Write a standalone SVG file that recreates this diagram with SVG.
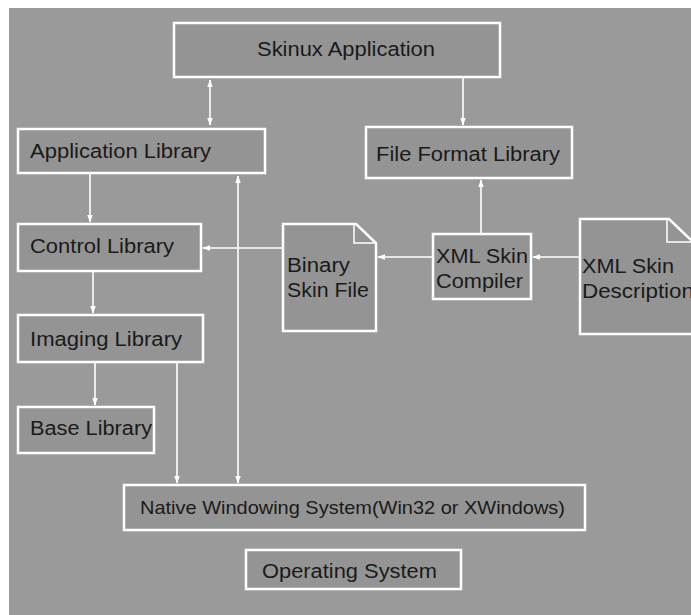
<svg xmlns="http://www.w3.org/2000/svg" width="691" height="615" viewBox="0 0 691 615">
<defs>
<style>
.bg{fill:#9a9a9a}
.box{fill:#949494;stroke:#ffffff;stroke-width:2.5}
.fold{fill:none;stroke:#ffffff;stroke-width:1.5}
.t{font-family:"Liberation Sans",Arial,sans-serif;font-size:20px;fill:#1a1a1a}
.c line{stroke:#ffffff;stroke-width:1.6}
</style>
<marker id="a" viewBox="0 0 10 10" refX="9" refY="5" markerWidth="8" markerHeight="8" orient="auto-start-reverse" markerUnits="userSpaceOnUse">
<path d="M0,1.5 L10,5 L0,8.5 z" fill="#ffffff"/>
</marker>
</defs>
<rect x="0" y="0" width="691" height="615" fill="#ffffff"/>
<rect class="bg" x="9" y="8" width="682" height="607"/>

<g id="skinux-application">
<rect class="box" x="174" y="23" width="326" height="54"/>
<text class="t" x="257" y="56" textLength="178" lengthAdjust="spacingAndGlyphs">Skinux Application</text>
</g>
<g id="application-library">
<rect class="box" x="18" y="129" width="247" height="44"/>
<text class="t" x="30" y="158" textLength="181" lengthAdjust="spacingAndGlyphs">Application Library</text>
</g>
<g id="file-format-library">
<rect class="box" x="366" y="127" width="206" height="51"/>
<text class="t" x="376" y="161" textLength="184" lengthAdjust="spacingAndGlyphs">File Format Library</text>
</g>
<g id="control-library">
<rect class="box" x="18" y="224" width="183" height="47"/>
<text class="t" x="30" y="253" textLength="144" lengthAdjust="spacingAndGlyphs">Control Library</text>
</g>
<g id="imaging-library">
<rect class="box" x="18" y="315" width="185" height="47"/>
<text class="t" x="30" y="346" textLength="152" lengthAdjust="spacingAndGlyphs">Imaging Library</text>
</g>
<g id="base-library">
<rect class="box" x="18" y="407" width="136" height="46"/>
<text class="t" x="30" y="435" textLength="122" lengthAdjust="spacingAndGlyphs">Base Library</text>
</g>
<g id="binary-skin-file">
<path class="box" d="M283,224 H356 L376,243 V331 H283 Z"/>
<path class="fold" d="M354,224 V243 H376"/>
<text class="t" x="287" y="272" textLength="63" lengthAdjust="spacingAndGlyphs">Binary</text>
<text class="t" x="287" y="297" textLength="82" lengthAdjust="spacingAndGlyphs">Skin File</text>
</g>
<g id="xml-skin-compiler">
<rect class="box" x="433" y="234" width="98" height="65"/>
<text class="t" x="436" y="263" textLength="92" lengthAdjust="spacingAndGlyphs">XML Skin</text>
<text class="t" x="436" y="288" textLength="87" lengthAdjust="spacingAndGlyphs">Compiler</text>
</g>
<g id="xml-skin-description">
<path class="box" d="M580,219 H669 L693,242 V334 H580 Z"/>
<path class="fold" d="M667,219 V242 H691"/>
<text class="t" x="582" y="273" textLength="92" lengthAdjust="spacingAndGlyphs">XML Skin</text>
<text class="t" x="582" y="298" textLength="112" lengthAdjust="spacingAndGlyphs">Description</text>
</g>
<g id="native-windowing-system">
<rect class="box" x="124" y="485" width="461" height="45"/>
<text class="t" x="140" y="514" style="font-size:19px" textLength="425" lengthAdjust="spacingAndGlyphs">Native Windowing System(Win32 or XWindows)</text>
</g>
<g id="operating-system">
<rect class="box" x="246" y="550" width="215" height="39"/>
<text class="t" x="262" y="578" textLength="175" lengthAdjust="spacingAndGlyphs">Operating System</text>
</g>

<g id="connectors" class="c">
<line x1="210" y1="80" x2="210" y2="125" marker-start="url(#a)" marker-end="url(#a)"/>
<line x1="463" y1="78" x2="463" y2="125" marker-end="url(#a)"/>
<line x1="90" y1="174" x2="90" y2="222" marker-end="url(#a)"/>
<line x1="93" y1="272" x2="93" y2="313" marker-end="url(#a)"/>
<line x1="95" y1="363" x2="95" y2="405" marker-end="url(#a)"/>
<line x1="177" y1="363" x2="177" y2="483" marker-end="url(#a)"/>
<line x1="238" y1="176" x2="238" y2="483" marker-start="url(#a)" marker-end="url(#a)"/>
<line x1="282" y1="248" x2="203" y2="248" marker-end="url(#a)"/>
<line x1="432" y1="257" x2="378" y2="257" marker-end="url(#a)"/>
<line x1="579" y1="257" x2="533" y2="257" marker-end="url(#a)"/>
<line x1="481" y1="233" x2="481" y2="180" marker-end="url(#a)"/>
</g>
</svg>
